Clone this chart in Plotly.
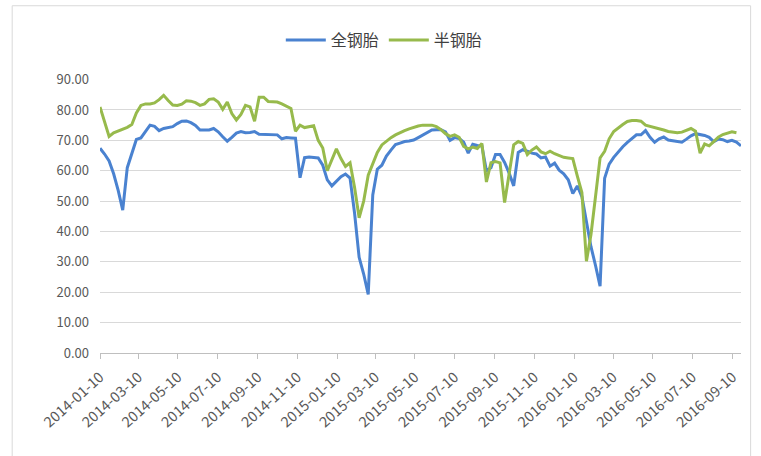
import pandas as pd
import plotly.graph_objects as go

# Weekly operating rates (%), starting 2014-01-10
start_date = "2014-01-10"

all_steel = [
    67.4, 65.5, 63.2, 59.0, 53.5, 47.0, 61.0, 66.0, 70.3, 70.8,
    72.9, 75.0, 74.6, 73.2, 73.9, 74.1, 74.5, 75.5, 76.3, 76.4,
    75.8, 74.9, 73.4, 73.4, 73.4, 73.9, 72.8, 71.2, 69.7, 71.0,
    72.4, 72.9, 72.5, 72.6, 72.9, 72.0, 71.9, 71.8, 71.8, 71.8,
    70.5, 70.9, 70.8, 70.7, 57.7, 64.3, 64.5, 64.4, 64.2, 61.8,
    57.0, 55.0, 56.5, 58.0, 58.9, 57.6, 46.0, 31.5, 26.0, 19.3,
    52.0, 60.5, 61.8, 64.8, 66.8, 68.6, 69.1, 69.6, 69.8, 70.1,
    70.9, 71.7, 72.6, 73.4, 73.5, 73.5, 72.8, 70.0, 70.9, 70.6,
    69.4, 65.8, 68.7, 68.3, 68.2, 60.0, 61.0, 65.3, 65.3, 62.7,
    59.2, 55.0, 66.0, 66.9, 66.4, 65.8, 65.5, 64.2, 64.5, 61.5,
    62.5, 60.2, 59.0, 57.0, 52.5, 55.0, 51.5, 43.0, 35.0, 28.8,
    22.0, 57.5, 62.2, 64.4, 66.3, 67.9, 69.3, 70.6, 71.8, 71.8,
    73.2, 71.0, 69.4, 70.5, 71.1, 70.1, 69.8, 69.5, 69.4, 70.4,
    71.5, 72.2, 71.9, 71.6, 71.0, 69.6, 70.4, 70.2, 69.6, 70.0,
    69.4, 68.2,
]

semi_steel = [
    81.0, 76.4, 71.3, 72.5, 73.1, 73.5, 74.3, 75.2, 79.0, 81.5,
    82.0, 82.0, 82.3, 83.4, 84.8, 83.1, 81.6, 81.5, 81.9, 83.0,
    82.9, 82.4, 81.5, 82.0, 83.5, 83.7, 82.6, 80.2, 82.6, 78.8,
    76.7, 78.5, 81.5, 81.0, 76.3, 84.2, 84.2, 82.8, 82.7, 82.6,
    82.0, 81.3, 80.5, 73.0, 75.0, 74.2, 74.5, 74.8, 70.0, 67.5,
    60.0, 63.6, 67.2, 64.0, 61.4, 62.6, 54.5, 44.5, 50.0, 58.5,
    62.5, 66.0, 68.5, 69.8, 70.9, 71.8, 72.6, 73.2, 73.8, 74.3,
    74.7, 75.0, 75.0, 75.0, 74.5, 73.5, 72.2, 71.3, 71.8, 71.0,
    68.0, 67.2, 67.8, 67.3, 69.0, 56.3, 62.6, 63.0, 62.6, 49.5,
    59.0, 68.5, 69.6, 69.0, 65.3, 66.8, 67.8, 66.2, 65.6, 66.4,
    65.6, 65.0, 64.4, 64.2, 64.0, 58.2, 52.8, 30.2, 39.0, 51.5,
    64.2, 66.4, 70.5, 72.9, 74.2, 75.2, 76.2, 76.5, 76.5, 76.3,
    75.0, 74.6, 74.3, 74.0, 73.4, 72.9, 72.7, 72.5, 72.7, 73.3,
    73.9, 73.0, 65.8, 68.8, 68.2, 69.6, 71.0, 71.9, 72.3, 72.8,
    72.5,
]

tick_dates = [
    "2014-01-10", "2014-03-10", "2014-05-10", "2014-07-10", "2014-09-10",
    "2014-11-10", "2015-01-10", "2015-03-10", "2015-05-10", "2015-07-10",
    "2015-09-10", "2015-11-10", "2016-01-10", "2016-03-10", "2016-05-10",
    "2016-07-10", "2016-09-10",
]
y_ticks = [0, 10, 20, 30, 40, 50, 60, 70, 80, 90]

weeks = pd.date_range(start_date, periods=len(all_steel), freq="7D")

fig = go.Figure()
fig.add_trace(go.Scatter(
    x=weeks, y=all_steel, name="全钢胎", mode="lines",
    line=dict(color="#4A82D0", width=3),
))
fig.add_trace(go.Scatter(
    x=weeks[:len(semi_steel)], y=semi_steel, name="半钢胎", mode="lines",
    line=dict(color="#97BA4C", width=3),
))

font_family = "Noto Sans CJK SC, Noto Sans, sans-serif"

fig.update_layout(
    width=761, height=456,
    margin=dict(l=100, r=20, t=75, b=103),
    paper_bgcolor="white", plot_bgcolor="white",
    font=dict(family=font_family, size=12, color="#595959"),
    showlegend=True,
    legend=dict(
        orientation="h", x=0.505, xref="container", xanchor="center",
        y=0.912, yref="container", yanchor="middle",
        font=dict(size=16, color="#404040"),
        itemwidth=40, traceorder="normal",
    ),
    xaxis=dict(
        type="date",
        range=["2014-01-10", "2016-09-23"],
        tickvals=tick_dates, ticktext=tick_dates,
        tickangle=-42,
        showgrid=False, zeroline=False,
        showline=True, linecolor="#BFBFBF", linewidth=1,
        ticks="outside", ticklen=5, tickcolor="#BFBFBF",
        ticklabelstandoff=4,
        tickfont=dict(size=14.5, color="#595959"),
    ),
    yaxis=dict(
        range=[0, 90],
        tickvals=y_ticks, tickformat=".2f",
        showgrid=True, gridcolor="#D9D9D9", gridwidth=1,
        zeroline=False, showline=False,
        ticks="", ticklabelstandoff=10,
        tickfont=dict(size=13, color="#595959"),
    ),
)

# light chart-area frame
fig.add_shape(
    type="rect", xref="paper", yref="paper",
    x0=-0.137, x1=1.015, y0=-0.38, y1=1.27,
    line=dict(color="#D9D9D9", width=1), fillcolor="rgba(0,0,0,0)",
)

fig.write_html("out.html")
